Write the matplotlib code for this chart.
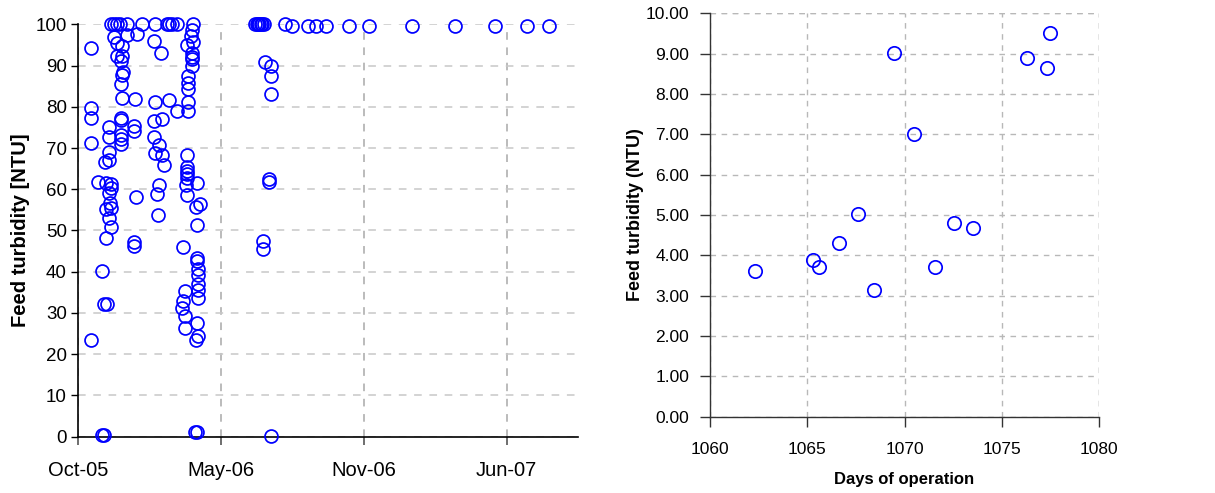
import matplotlib
matplotlib.use('Agg')
import matplotlib.pyplot as plt
import pandas as pd

plt.rcParams['font.family'] = ['Liberation Sans', 'DejaVu Sans']

# ---------------- Left panel data (Excel serial dates, NTU) ----------------
left_serial = [
    38668, 38668, 38668, 38668, 38668,
    38678, 38683, 38687, 38684, 38687, 38690, 38689, 38688, 38694, 38689,
    38693, 38693, 38693, 38696, 38696, 38694, 38695, 38696, 38689, 38694, 38696,
    38696, 38701, 38705, 38709, 38718, 38739,
    38701, 38705, 38711, 38704, 38711, 38710, 38713, 38712, 38710, 38712,
    38710, 38710, 38710, 38710, 38710, 38719, 38733, 38730, 38729, 38729,
    38731, 38729, 38729,
    38758, 38774, 38777, 38781, 38788, 38811,
    38757, 38766, 38758, 38778, 38789, 38757, 38768, 38757, 38764, 38758,
    38768, 38771, 38764, 38761, 38762,
    38810, 38808, 38811, 38802, 38810, 38809, 38809, 38809, 38804, 38804,
    38804, 38804, 38804, 38802, 38802, 38802, 38802, 38802, 38801, 38802,
    38816, 38821, 38815, 38816, 38797, 38816, 38816, 38818, 38818, 38818,
    38818, 38818, 38800, 38797, 38796, 38800, 38800, 38816, 38818, 38815,
    38814, 38816,
    38898, 38900, 38902, 38904, 38906, 38908, 38911, 38940, 38949, 38972,
    38983, 38997, 39029, 39057, 39118, 39178, 39234, 39279, 39309,
    38912, 38920, 38920, 38920, 38917, 38917, 38909, 38909, 38920,
]
left_ntu = [
    94.4, 79.7, 77.3, 71.2, 23.5,
    61.8, 0.3, 0.3, 40.1, 32.2, 32.1, 48.3, 66.7, 67.0, 61.5,
    75.1, 72.8, 69.1, 61.3, 60.3, 59.2, 56.6, 55.5, 55.1, 53.0, 50.8,
    100, 100, 100, 100, 100, 100,
    97.0, 95.4, 94.8, 92.4, 92.4, 91.2, 88.4, 87.7, 85.5, 82.2,
    77.4, 76.8, 73.2, 72.3, 71.0, 97.4, 97.7, 81.9, 75.3, 74.2,
    58.2, 47.3, 46.3,
    100, 100, 100, 100, 100, 100,
    96.1, 93.2, 81.1, 81.6, 79.0, 76.5, 77.0, 72.8, 70.8, 68.7,
    68.4, 65.9, 61.0, 58.8, 53.7,
    98.7, 97.3, 95.7, 95.0, 93.2, 92.2, 91.6, 90.0, 87.4, 85.9,
    84.3, 81.1, 79.1, 68.3, 65.4, 64.5, 63.6, 62.8, 61.0, 58.6,
    61.5, 56.5, 55.7, 51.3, 46.0, 43.4, 42.6, 40.7, 39.3, 37.1,
    35.6, 33.7, 35.3, 32.8, 31.1, 29.2, 26.4, 27.6, 24.4, 23.5,
    1.2, 1.2,
    100, 100, 100, 100, 100, 100, 100, 100, 99.7, 99.7,
    99.7, 99.7, 99.7, 99.7, 99.7, 99.7, 99.7, 99.7, 99.7,
    90.8, 90.0, 87.5, 83.1, 62.4, 61.8, 47.5, 45.5, 0.2,
]
left_tick_dates = ['2005-10-25', '2006-05-13', '2006-11-29', '2007-06-17']
left_tick_labels = ['Oct-05', 'May-06', 'Nov-06', 'Jun-07']
left_xmax = '2007-09-25'
left_yticks = list(range(0, 101, 10))

# ---------------- Right panel data ----------------
right_days = [1062.33, 1065.28, 1065.62, 1066.65, 1067.61, 1068.43, 1069.46,
              1070.49, 1071.59, 1072.55, 1073.50, 1076.32, 1077.34, 1077.48]
right_ntu = [3.61, 3.88, 3.72, 4.31, 5.02, 3.14, 9.01,
             7.00, 3.72, 4.79, 4.69, 8.88, 8.64, 9.50]
right_xticks = [1060, 1065, 1070, 1075, 1080]
right_yticks = [0, 1, 2, 3, 4, 5, 6, 7, 8, 9, 10]

W, H = 1215, 493
fig = plt.figure(figsize=(W / 100, H / 100), dpi=100)

def frac(x0, y0, x1, y1):
    return [x0 / W, 1 - y1 / H, (x1 - x0) / W, (y1 - y0) / H]

blue = '#0000FF'

# ---------------- Left axes ----------------
ax1 = fig.add_axes(frac(78, 24.5, 578, 436.5))
dates = pd.to_datetime(pd.Series(left_serial), unit='D', origin='1899-12-30')
ax1.plot(dates, left_ntu, linestyle='none', marker='o', markersize=9.3,
         markerfacecolor='none', markeredgecolor=blue, markeredgewidth=1.25,
         clip_on=False, zorder=3)
tick_pos = pd.to_datetime(left_tick_dates)
ax1.set_xlim(tick_pos[0], pd.to_datetime(left_xmax))
ax1.set_ylim(0, 100)
ax1.set_xticks(tick_pos)
ax1.set_xticklabels(left_tick_labels)
ax1.set_yticks(left_yticks)
for s in ['top', 'right']:
    ax1.spines[s].set_visible(False)
for s in ['left', 'bottom']:
    ax1.spines[s].set_color('black')
    ax1.spines[s].set_linewidth(1.2)
ax1.tick_params(axis='y', direction='out', length=5, width=1, labelsize=13.5, pad=3)
ax1.tick_params(axis='x', direction='out', length=6, width=1.2, color='#555555',
                labelsize=14.5, pad=12)
ax1.yaxis.grid(True, linestyle=(0, (5, 5)), color='#c8c8c8', linewidth=1.1)
ax1.xaxis.grid(True, linestyle=(0, (5, 5)), color='#a8a8a8', linewidth=1.1)
ax1.set_axisbelow(True)
ax1.set_ylabel('Feed turbidity [NTU]', fontsize=14.5, fontweight='bold', labelpad=4)

# ---------------- Right axes ----------------
ax2 = fig.add_axes(frac(710, 13.3, 1099, 416.7))
ax2.plot(right_days, right_ntu, linestyle='none', marker='o', markersize=9.6,
         markerfacecolor='none', markeredgecolor=blue, markeredgewidth=1.25,
         zorder=3)
ax2.set_xlim(1060, 1080)
ax2.set_ylim(0, 10)
ax2.set_xticks(right_xticks)
ax2.set_yticks(right_yticks)
ax2.set_yticklabels([f'{v:.2f}' for v in right_yticks])
for s in ['top', 'right']:
    ax2.spines[s].set_visible(False)
for s in ['left', 'bottom']:
    ax2.spines[s].set_color('#333333')
    ax2.spines[s].set_linewidth(1.0)
ax2.tick_params(axis='both', direction='out', length=7, width=1, color='#333333',
                labelsize=12.5)
ax2.tick_params(axis='y', pad=8)
ax2.tick_params(axis='x', pad=11)
ax2.grid(True, linestyle=(0, (4, 4)), color='#b8b8b8', linewidth=1.0)
ax2.set_axisbelow(True)
# gridlines at the top and right limits
ax2.axhline(10, linestyle=(0, (4, 4)), color='#b8b8b8', linewidth=1.0, zorder=0)
ax2.axvline(1080, linestyle=(0, (4, 4)), color='#b8b8b8', linewidth=1.0, zorder=0)
ax2.set_ylabel('Feed turbidity (NTU)', fontsize=13, fontweight='bold', labelpad=1)
ax2.set_xlabel('Days of operation', fontsize=12, fontweight='bold', labelpad=11)

fig.savefig('out.png', dpi=100)
